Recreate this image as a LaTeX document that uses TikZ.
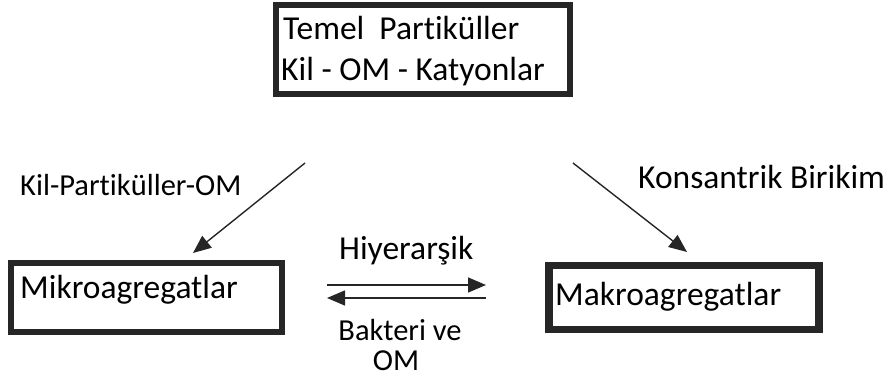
\documentclass[tikz,border=0pt]{standalone}
\usepackage{fontspec}
\setmainfont[Ligatures=NoCommon]{Carlito}
\usetikzlibrary{arrows.meta}
\begin{document}
\begin{tikzpicture}[x=1pt,y=-1pt,
  boxnode/.style={draw=black!85, line width=6pt, rectangle, inner sep=0pt},
  bigtxt/.style={font=\fontsize{33.5}{40}\selectfont, inner sep=0pt, anchor=base west},
  smalltxt/.style={font=\fontsize{30.5}{26}\selectfont, inner sep=0pt, anchor=base west},
  arr/.style={line width=1.4pt, draw=black!85, -{Triangle[length=18pt,width=15pt]}}]
\useasboundingbox (0,0) rectangle (893,383);
% boxes
\node[boxnode, minimum width=294pt, minimum height=89pt] (top) at (423,49.5) {};
\node[boxnode, minimum width=271pt, minimum height=69pt] (mikro) at (146.5,297.5) {};
\node[boxnode, line width=7.5pt, minimum width=270pt, minimum height=64pt] (makro) at (684,297.5) {};
% texts
\node[bigtxt] (t1) at (283,39) {Temel\ \ Partiküller};
\node[bigtxt] (t2) at (281,80) {Kil - OM - Katyonlar};
\node[bigtxt] (mikrotxt) at (20,298) {Mikroagregatlar};
\node[bigtxt] (makrotxt) at (555,305) {Makroagregatlar};
\node[smalltxt] (kpo) at (20,195) {Kil-Partiküller-OM};
\node[bigtxt] (kb) at (638,188) {Konsantrik Birikim};
\node[bigtxt] (hy) at (339,259) {Hiyerarşik};
\node[smalltxt, anchor=base, text height=20pt, text depth=0pt] (bo1) at (400,340) {Bakteri ve};
\node[smalltxt, anchor=base, text height=20pt, text depth=0pt] (bo2) at (396,370) {OM};
% connectors
\coordinate (l1) at (305,163);
\coordinate (l2) at (193,253);
\coordinate (r1) at (573,163);
\coordinate (r2) at (687,252);
\coordinate (h1) at (327,285);
\coordinate (h2) at (486,285);
\coordinate (g1) at (486,298);
\coordinate (g2) at (327,298);
\draw[arr] (l1) -- (l2);
\draw[arr] (r1) -- (r2);
\draw[arr] (h1) -- (h2);
\draw[arr] (g1) -- (g2);
\end{tikzpicture}
\end{document}
